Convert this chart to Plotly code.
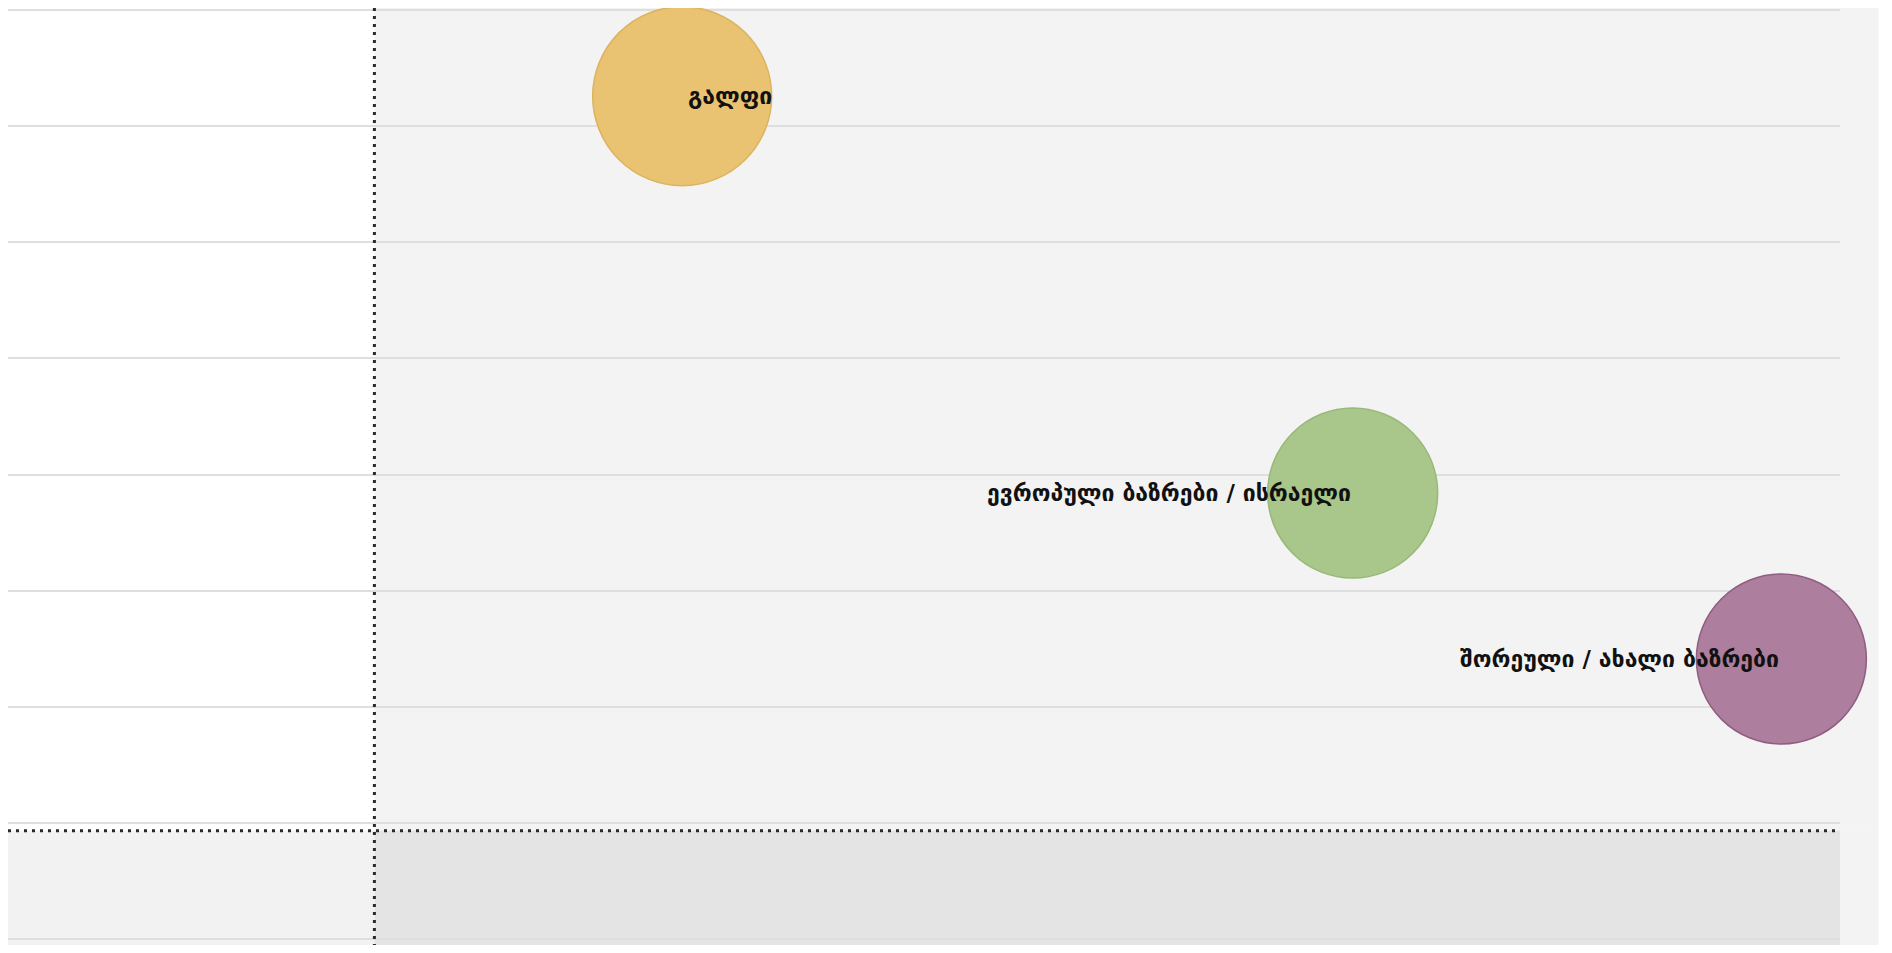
import plotly.graph_objects as go

# Data
labels = ["გალფი", "ევროპული ბაზრები / ისრაელი", "შორეული / ახალი ბაზრები"]
x_vals = [0.84, 2.67, 3.84]
y_vals = [6.26, 2.84, 1.41]
bubble_sizes = [179, 170, 170]
colors = ["#e9c272", "#a9c78a", "#ad7e9e"]
border_colors = ["#dcb460", "#98b878", "#8f5d80"]
label_anchor = ["left", "right", "right"]
label_shift = [4, 0, 0]

X_REF = 0.0
Y_REF = -0.07
X_RANGE = [-1, 4]
Y_RANGE = [-1.02, 7.02]

def px(v):
    return (v - X_RANGE[0]) / (X_RANGE[1] - X_RANGE[0])

def py(v):
    return (v - Y_RANGE[0]) / (Y_RANGE[1] - Y_RANGE[0])

fig = go.Figure()

# Quadrant shading (paper coords so it can run past the plot edge)
fig.add_shape(type="rect", xref="paper", yref="paper", x0=px(X_REF), x1=1.021, y0=py(Y_REF), y1=1.0,
              fillcolor="#f3f3f3", line_width=0, layer="below")
fig.add_shape(type="rect", xref="paper", yref="paper", x0=1.0, x1=1.021, y0=-0.05, y1=py(Y_REF),
              fillcolor="#f3f3f3", line_width=0, layer="below")
fig.add_shape(type="rect", xref="paper", yref="paper", x0=0, x1=px(X_REF), y0=-0.05, y1=py(Y_REF),
              fillcolor="#f2f2f2", line_width=0, layer="below")
fig.add_shape(type="rect", xref="paper", yref="paper", x0=px(X_REF), x1=1.0, y0=-0.05, y1=py(Y_REF),
              fillcolor="#e4e4e4", line_width=0, layer="below")

# Reference dotted lines
fig.add_shape(type="line", xref="paper", yref="paper", x0=px(X_REF), x1=px(X_REF), y0=1.0, y1=-0.05,
              line=dict(color="#2a2a2a", width=3, dash="3px,5px"), layer="above")
fig.add_shape(type="line", xref="paper", yref="paper", x0=0, x1=1, y0=py(Y_REF), y1=py(Y_REF),
              line=dict(color="#2a2a2a", width=3, dash="3px,5px"), layer="above")

fig.add_trace(go.Scatter(
    x=x_vals, y=y_vals, mode="markers",
    marker=dict(size=bubble_sizes, sizemode="diameter", sizeref=1, color=colors,
                line=dict(color=border_colors, width=1.5), opacity=1),
    cliponaxis=False, hoverinfo="text", text=labels, showlegend=False,
))

for xv, yv, lab, anc, sh in zip(x_vals, y_vals, labels, label_anchor, label_shift):
    fig.add_annotation(x=xv, y=yv, text=lab, showarrow=False, xanchor=anc, yanchor="middle",
                       xshift=sh, font=dict(family="DejaVu Sans", size=23, color="#111111", weight="bold"))

fig.update_xaxes(range=X_RANGE, showgrid=False, zeroline=False, showticklabels=False, showline=False, ticks="")
fig.update_yaxes(range=Y_RANGE, dtick=1, tick0=0, showgrid=True, gridcolor="#dedede", gridwidth=2,
                 zeroline=False, showticklabels=False, showline=False, ticks="")

fig.update_layout(
    width=1876, height=937,
    margin=dict(l=0, r=44, t=0, b=4),
    paper_bgcolor="white", plot_bgcolor="rgba(0,0,0,0)",
    showlegend=False,
)

fig.write_html("out.html")
